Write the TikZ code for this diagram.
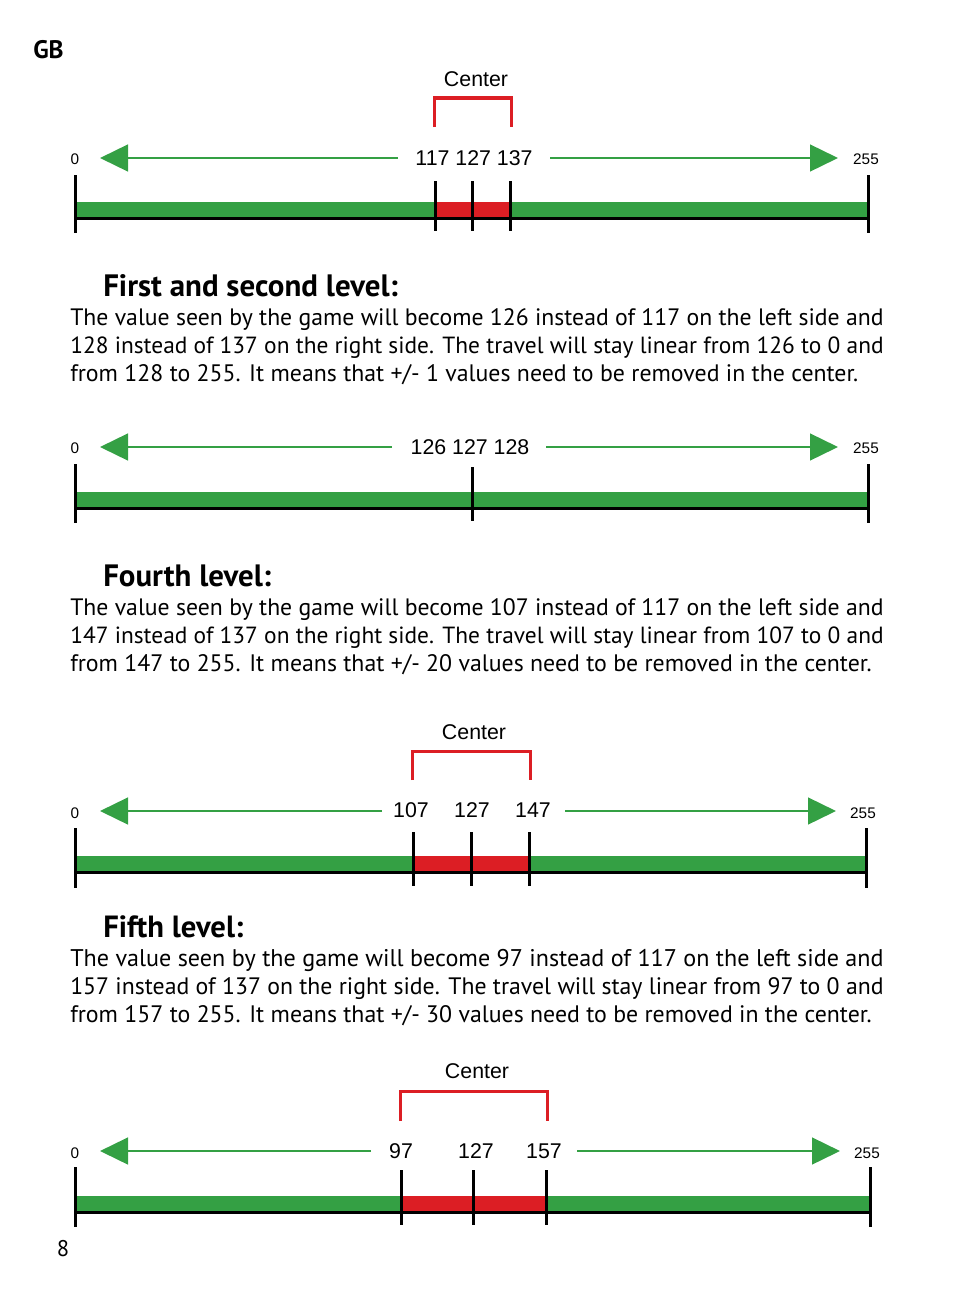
\documentclass[tikz,border=0pt]{standalone}
\usepackage{fontspec}
\setmainfont{PT Sans}
\newfontfamily\arial{Liberation Sans}
\usetikzlibrary{arrows.meta}
\definecolor{gr}{RGB}{52,160,68}
\definecolor{rd}{RGB}{220,30,36}
\tikzset{
 arr/.style={gr,line width=2.6pt*0.75,-{Triangle[length=21pt,width=20pt]}},
 tick/.style={black,line width=3pt*0.75},
 brk/.style={rd,line width=3pt*0.75},
 lbl/.style={font=\arial\fontsize{16}{18}\selectfont,inner sep=0pt},
 sml/.style={font=\arial\fontsize{11.5}{13}\selectfont,inner sep=0pt},
 body/.style={anchor=west,inner sep=0pt,font=\fontsize{18}{21}\selectfont},
 head/.style={anchor=west,inner sep=0pt,font=\bfseries\fontsize{20}{24}\selectfont},
}
\newcommand{\bline}[4]{\node[body] (#1) at (70,#2) {\resizebox{#3pt}{!}{\strut #4}};}
\begin{document}
\begin{tikzpicture}[x=0.75pt,y=-0.75pt]
\useasboundingbox (0,0) rectangle (954,1306);
\node[head,font=\bfseries\fontsize{19}{22}\selectfont] (gb) at (33,50) {GB};
\node[inner sep=0pt,font=\fontsize{17}{20}\selectfont] (pg) at (63,1249) {8};
% ---- diagram 1
\node[lbl] (c1) at (476,79) {Center};
\coordinate (b1a) at (434,127); \coordinate (b1b) at (511,127);
\draw[brk] (b1a) |- (472,98) -| (b1b);
\node[sml] (z1) at (75,159) {0};
\node[sml] (f1) at (866,159) {255};
\node[lbl] (v1) at (474,158) {117 127 137};
\coordinate (l1a) at (398,158); \coordinate (l1b) at (100,158);
\coordinate (r1a) at (550,158); \coordinate (r1b) at (838,158);
\draw[arr] (l1a) -- (l1b); \draw[arr] (r1a) -- (r1b);
\fill[gr] (75,202) rectangle (868,217);
\fill[rd] (435,202) rectangle (510,217);
\draw[tick] (75,218) -- (868,218);
\draw[tick] (75,175) -- (75,233); \draw[tick] (868,175) -- (868,233);
\foreach \x in {435,472,510} \draw[tick] (\x,181) -- (\x,231);
% ---- text 1
\node[head] (h1) at (103,289) {\resizebox{221pt}{!}{\strut First and second level:}};
\bline{t11}{320}{610}{The value seen by the game will become 126 instead of 117 on the left side and}
\bline{t12}{348}{610}{128 instead of 137 on the right side. The travel will stay linear from 126 to 0 and}
\bline{t13}{376}{591}{from 128 to 255. It means that +/- 1 values need to be removed in the center.}
% ---- diagram 2
\node[sml] (z2) at (75,448) {0};
\node[sml] (f2) at (866,448) {255};
\node[lbl] (v2) at (470,447) {126 127 128};
\coordinate (l2a) at (392,447); \coordinate (l2b) at (100,447);
\coordinate (r2a) at (546,447); \coordinate (r2b) at (838,447);
\draw[arr] (l2a) -- (l2b); \draw[arr] (r2a) -- (r2b);
\fill[gr] (75,492) rectangle (868,507);
\draw[tick] (75,508) -- (868,508);
\draw[tick] (75,464) -- (75,523); \draw[tick] (868,464) -- (868,523);
\draw[tick] (472,467) -- (472,521);
% ---- text 2
\node[head] (h2) at (103,579) {\resizebox{126pt}{!}{\strut Fourth level:}};
\bline{t21}{610}{610}{The value seen by the game will become 107 instead of 117 on the left side and}
\bline{t22}{638}{610}{147 instead of 137 on the right side. The travel will stay linear from 107 to 0 and}
\bline{t23}{666}{601}{from 147 to 255. It means that +/- 20 values need to be removed in the center.}
% ---- diagram 3
\node[lbl] (c3) at (474,732) {Center};
\coordinate (b3a) at (412,780); \coordinate (b3b) at (530,780);
\draw[brk] (b3a) |- (471,751) -| (b3b);
\node[sml] (z3) at (75,813) {0};
\node[sml] (f3) at (863,813) {255};
\node[lbl] (v3a) at (411,810) {107};
\node[lbl] (v3b) at (472,810) {127};
\node[lbl] (v3c) at (533,810) {147};
\coordinate (l3a) at (382,811); \coordinate (l3b) at (100,811);
\coordinate (r3a) at (565,811); \coordinate (r3b) at (836,811);
\draw[arr] (l3a) -- (l3b); \draw[arr] (r3a) -- (r3b);
\fill[gr] (75,856) rectangle (866,871);
\fill[rd] (413,856) rectangle (529,871);
\draw[tick] (75,872) -- (866,872);
\draw[tick] (75,828) -- (75,888); \draw[tick] (866,828) -- (866,888);
\foreach \x in {413,471,529} \draw[tick] (\x,832) -- (\x,886);
% ---- text 3
\node[head] (h3) at (103,930) {\resizebox{105pt}{!}{\strut Fifth level:}};
\bline{t31}{961}{610}{The value seen by the game will become 97 instead of 117 on the left side and}
\bline{t32}{989}{610}{157 instead of 137 on the right side. The travel will stay linear from 97 to 0 and}
\bline{t33}{1017}{601}{from 157 to 255. It means that +/- 30 values need to be removed in the center.}
% ---- diagram 4
\node[lbl] (c4) at (477,1071) {Center};
\coordinate (b4a) at (400,1121); \coordinate (b4b) at (547,1121);
\draw[brk] (b4a) |- (473,1091) -| (b4b);
\node[sml] (z4) at (75,1153) {0};
\node[sml] (f4) at (867,1153) {255};
\node[lbl] (v4a) at (401,1151) {97};
\node[lbl] (v4b) at (476,1151) {127};
\node[lbl] (v4c) at (544,1151) {157};
\coordinate (l4a) at (371,1151); \coordinate (l4b) at (100,1151);
\coordinate (r4a) at (577,1151); \coordinate (r4b) at (840,1151);
\draw[arr] (l4a) -- (l4b); \draw[arr] (r4a) -- (r4b);
\fill[gr] (75,1196) rectangle (870,1211);
\fill[rd] (401,1196) rectangle (546,1211);
\draw[tick] (75,1212) -- (870,1212);
\draw[tick] (75,1167) -- (75,1227); \draw[tick] (870,1167) -- (870,1227);
\foreach \x in {401,473,546} \draw[tick] (\x,1170) -- (\x,1225);
\end{tikzpicture}
\end{document}
